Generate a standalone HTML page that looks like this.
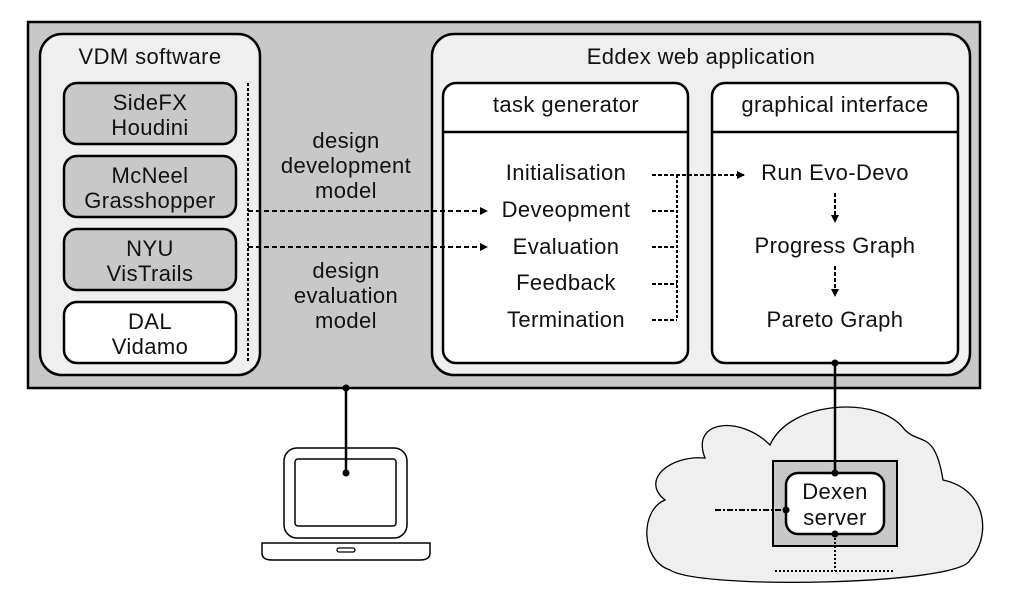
<!DOCTYPE html>
<html><head><meta charset="utf-8"><style>body{margin:0;background:#fff}svg{display:block}text{font-family:"Liberation Sans",sans-serif;font-size:22px;letter-spacing:0.4px;fill:#111;text-anchor:middle}</style></head><body>
<svg width="1010" height="604" viewBox="0 0 1010 604">
<defs><marker id="a" markerWidth="8" markerHeight="8" refX="7" refY="4" orient="auto" markerUnits="userSpaceOnUse"><path d="M0,0 L8,4 L0,8z" fill="#000"/></marker></defs>
<rect x="28" y="22" width="952" height="366" fill="#c8c8c8" stroke="#000" stroke-width="2.5"/>
<rect x="40" y="34" width="220" height="341" rx="22" fill="#efefef" stroke="#000" stroke-width="2.5"/>
<text x="150" y="64">VDM software</text>
<g stroke="#000" stroke-width="2.5">
<rect x="64" y="83" width="172" height="61" rx="13" fill="#c8c8c8"/>
<rect x="64" y="156" width="172" height="61" rx="13" fill="#c8c8c8"/>
<rect x="64" y="229" width="172" height="61" rx="13" fill="#c8c8c8"/>
<rect x="64" y="302" width="172" height="61" rx="13" fill="#fff"/>
</g>
<text x="150" y="110">SideFX</text><text x="150" y="135">Houdini</text>
<text x="150" y="183">McNeel</text><text x="150" y="208">Grasshopper</text>
<text x="150" y="256">NYU</text><text x="150" y="281">VisTrails</text>
<text x="150" y="329">DAL</text><text x="150" y="354">Vidamo</text>
<line x1="248" y1="83" x2="248" y2="363" stroke="#000" stroke-width="2" stroke-dasharray="3,2"/>
<text x="346" y="148">design</text><text x="346" y="173">development</text><text x="346" y="198">model</text>
<text x="346" y="278">design</text><text x="346" y="303">evaluation</text><text x="346" y="328">model</text>
<rect x="432" y="34" width="538" height="341" rx="22" fill="#efefef" stroke="#000" stroke-width="2.5"/>
<text x="701" y="64">Eddex web application</text>
<rect x="443" y="83" width="245" height="280" rx="13" fill="#fff" stroke="#000" stroke-width="2.5"/>
<line x1="443" y1="132" x2="688" y2="132" stroke="#000" stroke-width="2.5"/>
<text x="566" y="112">task generator</text>
<rect x="712" y="83" width="246" height="280" rx="13" fill="#fff" stroke="#000" stroke-width="2.5"/>
<line x1="712" y1="132" x2="958" y2="132" stroke="#000" stroke-width="2.5"/>
<text x="835" y="112">graphical interface</text>
<g stroke="#000" stroke-width="2" stroke-dasharray="5,3" fill="none">
<line x1="248" y1="211" x2="487" y2="211" marker-end="url(#a)"/>
<line x1="248" y1="247" x2="487" y2="247" marker-end="url(#a)"/>
</g>
<text x="566" y="180">Initialisation</text>
<text x="566" y="217">Deveopment</text>
<text x="566" y="254">Evaluation</text>
<text x="566" y="290">Feedback</text>
<text x="566" y="327">Termination</text>
<text x="835" y="180">Run Evo-Devo</text>
<text x="835" y="253">Progress Graph</text>
<text x="835" y="327">Pareto Graph</text>
<g stroke="#000" stroke-width="2" stroke-dasharray="4,2" fill="none">
<line x1="652" y1="175" x2="744" y2="175" marker-end="url(#a)"/>
<line x1="652" y1="211" x2="677" y2="211"/>
<line x1="652" y1="247" x2="677" y2="247"/>
<line x1="652" y1="284" x2="677" y2="284"/>
<line x1="652" y1="320" x2="677" y2="320"/>
<line x1="677" y1="175" x2="677" y2="320" stroke-dasharray="3,2"/>
<line x1="835" y1="193" x2="835" y2="222" marker-end="url(#a)"/>
<line x1="835" y1="266" x2="835" y2="296" marker-end="url(#a)"/>
</g>
<path d="M705,458 C690,420 740,415 770,445 C790,400 880,395 905,430 C920,445 935,430 943,480 C990,490 990,540 970,560 C960,585 700,590 670,570 C640,560 640,510 665,500 C640,480 670,455 705,458Z" fill="#efefef" stroke="#000" stroke-width="1.3"/>
<rect x="773" y="461" width="124" height="85" fill="#c8c8c8" stroke="#000" stroke-width="2"/>
<rect x="786" y="473" width="98" height="61" rx="12" fill="#fff" stroke="#000" stroke-width="2.5"/>
<text x="835" y="499">Dexen</text><text x="835" y="525">server</text>
<line x1="835" y1="363" x2="835" y2="473" stroke="#000" stroke-width="2.5"/>
<circle cx="835" cy="363" r="3.5"/><circle cx="835" cy="473" r="3.5"/>
<line x1="715" y1="510" x2="786" y2="510" stroke="#000" stroke-width="2" stroke-dasharray="6,2,2,2"/>
<circle cx="786" cy="510" r="3.5"/>
<line x1="835" y1="534" x2="835" y2="571" stroke="#000" stroke-width="2" stroke-dasharray="2,2"/>
<circle cx="835" cy="534" r="3.5"/>
<line x1="775" y1="571" x2="894" y2="571" stroke="#000" stroke-width="2" stroke-dasharray="2,2"/>
<line x1="346" y1="388" x2="346" y2="473" stroke="#000" stroke-width="2.5"/>
<circle cx="346" cy="388" r="3.5"/><circle cx="346" cy="473" r="3.5"/>
<rect x="284" y="448" width="123" height="90" rx="13" fill="none" stroke="#000" stroke-width="1.5"/>
<rect x="295" y="459" width="101" height="67" rx="3" fill="none" stroke="#000" stroke-width="1.5"/>
<path d="M262,543 H430 V553 Q430,560 420,560 H272 Q262,560 262,553Z" fill="#fff" stroke="#000" stroke-width="1.5"/>
<rect x="337" y="548" width="18" height="4" rx="2" fill="#fff" stroke="#000" stroke-width="1.3"/>
</svg>
</body></html>
